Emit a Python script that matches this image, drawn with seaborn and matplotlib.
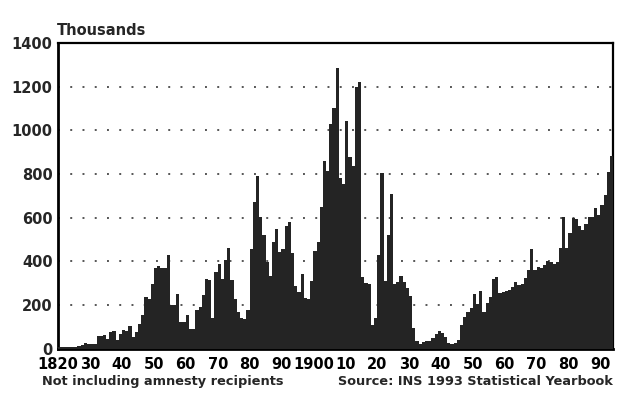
import numpy as np
import pandas as pd
import matplotlib
matplotlib.use("Agg")
import matplotlib.pyplot as plt
import seaborn as sns

# annual immigration to the US, thousands (not including amnesty recipients)
start_year = 1820
immigrants = [
    8.4, 9.1, 6.9, 6.4, 7.9, 10.2, 10.8, 18.9, 27.4, 22.5,            # 1820s
    23.3, 22.6, 60.5, 58.6, 65.4, 45.4, 76.2, 79.3, 38.9, 68.1,       # 1830s
    84.1, 80.3, 104.6, 52.5, 78.6, 114.4, 154.4, 235.0, 226.5, 297.0, # 1840s
    370.0, 379.5, 371.6, 368.6, 427.8, 200.9, 200.4, 251.3, 123.1, 121.3,  # 1850s
    153.6, 91.9, 92.0, 176.3, 193.4, 248.1, 318.6, 315.7, 138.8, 352.8,    # 1860s
    387.2, 321.4, 404.8, 460.0, 313.3, 227.5, 170.0, 141.9, 138.5, 177.8,  # 1870s
    457.3, 669.4, 789.0, 603.3, 518.6, 395.3, 334.2, 490.1, 547.0, 444.4,  # 1880s
    455.3, 560.3, 579.7, 439.7, 285.6, 258.5, 343.3, 230.8, 229.3, 311.7,  # 1890s
    448.6, 487.9, 648.7, 857.0, 812.9, 1026.5, 1100.7, 1285.3, 782.9, 751.8,  # 1900s
    1041.6, 878.6, 838.2, 1197.9, 1218.5, 326.7, 298.8, 295.4, 110.6, 141.1,  # 1910s
    430.0, 805.2, 309.6, 522.9, 706.9, 294.3, 304.5, 335.2, 307.3, 279.7,  # 1920s
    241.7, 97.1, 35.6, 23.1, 29.5, 35.0, 36.3, 50.2, 68.0, 82.9,          # 1930s
    70.8, 51.8, 28.8, 23.7, 28.6, 38.1, 108.7, 147.3, 170.6, 188.3,       # 1940s
    249.2, 205.7, 265.5, 170.4, 208.2, 237.8, 321.6, 326.9, 253.3, 260.7, # 1950s
    265.4, 271.3, 283.8, 306.3, 292.2, 297.0, 323.0, 362.0, 454.4, 358.6, # 1960s
    373.3, 370.5, 384.7, 400.1, 394.9, 386.2, 398.6, 462.3, 601.4, 460.3, # 1970s
    530.6, 596.6, 594.1, 559.8, 543.9, 570.0, 601.7, 601.5, 643.0, 612.1, # 1980s
    656.1, 704.0, 810.6, 880.0,                                          # 1990s
]
years = np.arange(start_year, start_year + len(immigrants))

tick_years = np.arange(1820, 2000, 10)
tick_labels = ["1820", "30", "40", "50", "60", "70", "80", "90", "1900",
               "10", "20", "30", "40", "50", "60", "70", "80", "90"]
y_ticks = [0, 200, 400, 600, 800, 1000, 1200, 1400]

df = pd.DataFrame({"year": years, "thousands": immigrants})

sns.set_style("white")
plt.rcParams['font.family'] = ['DejaVu Sans']

fig = plt.figure(figsize=(6.4, 4.0), dpi=100)
ax = fig.add_axes([0.091, 0.128, 0.867, 0.765])

# step-filled histogram weighted by yearly counts -> one block per year
sns.histplot(data=df, x="year", weights="thousands",
             binwidth=1, binrange=(1820, 1994), element="step", fill=True,
             color="#242424", alpha=1, linewidth=0, ax=ax, zorder=3)

ax.set_xlim(1820, 1994)
ax.set_ylim(0, 1400)

for v in y_ticks[1:-1]:
    ax.axhline(v, color="#555555", linestyle=(0, (1, 5.3)), linewidth=1.4, zorder=1)

ax.set_xticks(tick_years)
ax.set_xticklabels(tick_labels, fontsize=10.5, fontweight="bold")
ax.set_yticks(y_ticks)
ax.set_yticklabels([str(v) for v in y_ticks], fontsize=10.5, fontweight="bold")
ax.tick_params(axis="x", direction="out", length=5, width=1.5, pad=1, colors="black")
ax.tick_params(axis="y", length=0, pad=4)
ax.set_xlabel("")
ax.set_ylabel("")

for s in ax.spines.values():
    s.set_visible(True)
    s.set_color("black")
    s.set_linewidth(1.6)
ax.spines["left"].set_linewidth(2)
ax.spines["bottom"].set_linewidth(2)

fig.text(0.089, 0.905, "Thousands", fontsize=10.5, fontweight="bold", ha="left", va="bottom")
fig.text(0.066, 0.047, "Not including amnesty recipients", fontsize=9.3,
         fontweight="bold", ha="left", va="center")
fig.text(0.957, 0.047, "Source: INS 1993 Statistical Yearbook", fontsize=9.3,
         fontweight="bold", ha="right", va="center")

fig.savefig("out.png", dpi=100)
